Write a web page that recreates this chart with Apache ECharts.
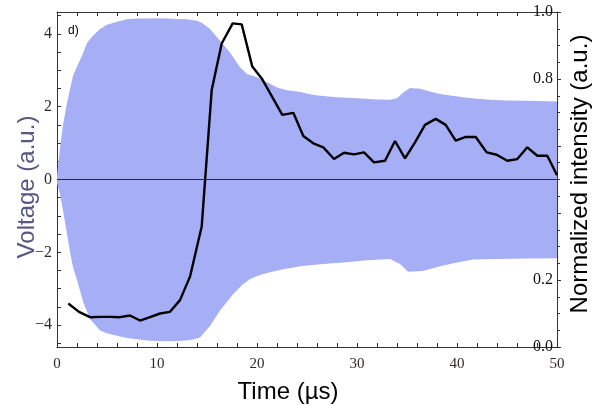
<!DOCTYPE html>
<html>
<head>
<meta charset="utf-8">
<script src="https://cdn.jsdelivr.net/npm/echarts@6/dist/echarts.min.js"></script>
<style>html,body{margin:0;padding:0;background:#fff}#c{width:603px;height:405px}</style>
</head>
<body>
<div id="c"></div>
<script>
// Time axis (µs)
const timeTicks = [0, 10, 20, 30, 40, 50];
const voltageTicks = [-4, -2, 0, 2, 4];
const voltageMinorTicks = [-4.5, -4, -3.5, -3, -2.5, -2, -1.5, -1, -0.5, 0, 0.5, 1, 1.5, 2, 2.5, 3, 3.5, 4, 4.5];
const intensityTicks = [0, 0.2, 0.4, 0.6, 0.8, 1.0];

// Upper envelope of the drive voltage [time µs, voltage a.u.]
const voltageUpper = [[0,0.1],[0.3,0.85],[0.6,1.5],[1,2.1],[1.6,2.85],[2,3.1],[2.5,3.4],[3,3.75],[3.5,3.92],[4.3,4.13],[5,4.25],[6,4.33],[7,4.4],[8,4.42],[9,4.42],[10,4.43],[11,4.42],[12,4.41],[13,4.4],[14,4.36],[14.5,4.3],[15.3,4.13],[16.3,3.81],[17.3,3.49],[18.3,3.08],[19,2.9],[20,2.81],[21,2.67],[22,2.53],[23,2.45],[24.3,2.4],[25.5,2.33],[26.6,2.29],[28,2.26],[30,2.23],[32,2.2],[33.3,2.19],[34,2.23],[34.6,2.38],[35.3,2.51],[36.3,2.49],[37.3,2.42],[38.3,2.35],[39.5,2.3],[40.6,2.26],[42,2.22],[43.3,2.19],[45,2.17],[47,2.16],[50,2.14]];
// Lower envelope of the drive voltage
const voltageLower = [[0,-0.1],[0.3,-0.4],[0.63,-0.9],[1,-1.5],[1.3,-1.99],[1.6,-2.4],[1.97,-2.73],[2.3,-3.05],[2.63,-3.37],[3.3,-3.83],[4.3,-4.15],[5,-4.22],[6,-4.29],[7,-4.35],[8,-4.39],[9.3,-4.43],[11,-4.44],[12.6,-4.43],[13.5,-4.4],[14.3,-4.34],[15.3,-4.02],[16.3,-3.6],[17.6,-3.15],[18.5,-2.9],[19.3,-2.73],[20.3,-2.62],[21.3,-2.55],[22.5,-2.47],[24.3,-2.38],[26.6,-2.32],[29,-2.27],[31,-2.22],[33.3,-2.18],[34.3,-2.32],[35.1,-2.53],[36.6,-2.51],[38.3,-2.38],[40,-2.28],[41.6,-2.2],[44,-2.18],[47,-2.17],[50,-2.16]];
// Normalized intensity [time µs, intensity a.u.]
const intensity = [[1.13,0.130],[2.2,0.105],[3.3,0.089],[4.3,0.090],[5.3,0.090],[6.3,0.089],[7.3,0.094],[8.3,0.079],[9.3,0.089],[10.3,0.100],[11.3,0.105],[12.3,0.14],[13.3,0.21],[14.47,0.36],[15.47,0.767],[16.47,0.906],[17.57,0.966],[18.47,0.963],[19.53,0.837],[20.53,0.799],[21.53,0.746],[22.53,0.693],[23.63,0.699],[24.63,0.630],[25.63,0.608],[26.63,0.596],[27.7,0.561],[28.7,0.58],[29.7,0.575],[30.7,0.581],[31.7,0.551],[32.8,0.556],[33.8,0.615],[34.8,0.563],[35.8,0.611],[36.8,0.663],[37.87,0.681],[38.87,0.663],[39.87,0.616],[40.87,0.627],[41.87,0.627],[42.97,0.581],[43.97,0.574],[45.03,0.556],[46.03,0.561],[47.03,0.596],[48.03,0.571],[49.03,0.571],[50,0.513]];

const chart = echarts.init(document.getElementById('c'), null, {renderer: 'canvas'});
const axisCol = '#333';
const serif = '"Liberation Serif", "DejaVu Serif", serif';
const sans = '"Liberation Sans", Arial, sans-serif';
const band = '#a6aef6';

chart.setOption({
  animation: false,
  grid: {left: 57, right: 46, top: 12, bottom: 58, containLabel: false},
  xAxis: [{
    type: 'value', min: 0, max: 50, interval: 10, position: 'bottom',
    axisLine: {show: true, onZero: false, lineStyle: {color: axisCol, width: 1}},
    axisTick: {show: true, inside: true, length: 4, lineStyle: {color: axisCol}},
    minorTick: {show: true, splitNumber: 5, length: 4, lineStyle: {color: axisCol}},
    axisLabel: {customValues: timeTicks, margin: 10, fontFamily: serif, fontSize: 15, color: '#2e2a28'},
    splitLine: {show: false}
  }, {
    type: 'value', min: 0, max: 50, interval: 10, position: 'top',
    axisLine: {show: true, onZero: false, lineStyle: {color: axisCol, width: 1}},
    axisTick: {show: true, inside: true, length: 4, lineStyle: {color: axisCol}},
    minorTick: {show: true, splitNumber: 5, length: 4, lineStyle: {color: axisCol}},
    axisLabel: {show: false},
    splitLine: {show: false}
  }],
  yAxis: [{
    type: 'value', min: -4.6, max: 4.6, position: 'left',
    axisLine: {show: true, onZero: false, lineStyle: {color: axisCol, width: 1}},
    axisTick: {show: true, inside: true, length: 4, customValues: voltageMinorTicks, lineStyle: {color: axisCol}},
    axisLabel: {customValues: voltageTicks, margin: 5, fontFamily: serif, fontSize: 16, color: '#2e2a28',
      formatter: v => (v < 0 ? '\u2212' + Math.abs(v) : String(v))},
    splitLine: {show: false}
  }, {
    type: 'value', min: 0, max: 1, interval: 0.2, position: 'right',
    axisLine: {show: true, onZero: false, lineStyle: {color: axisCol, width: 1}},
    axisTick: {show: true, inside: false, length: 4, lineStyle: {color: axisCol}},
    minorTick: {show: true, splitNumber: 4, length: 3, lineStyle: {color: axisCol}},
    axisLabel: {customValues: intensityTicks, inside: true, margin: 4, fontFamily: serif, fontSize: 16, color: '#111',
      formatter: v => v.toFixed(1)},
    splitLine: {show: false}
  }],
  series: [{
    type: 'line', xAxisIndex: 0, yAxisIndex: 0, data: voltageUpper,
    symbol: 'none', lineStyle: {width: 0}, areaStyle: {color: band, opacity: 1, origin: 0},
    silent: true, z: 1,
    markLine: {silent: true, symbol: ['none', 'none'], label: {show: false},
      lineStyle: {color: '#2a2a33', width: 1, type: 'solid'}, data: [{yAxis: 0}]}
  }, {
    type: 'line', xAxisIndex: 0, yAxisIndex: 0, data: voltageLower,
    symbol: 'none', lineStyle: {width: 0}, areaStyle: {color: band, opacity: 1, origin: 0},
    silent: true, z: 1
  }, {
    type: 'line', xAxisIndex: 0, yAxisIndex: 1, data: intensity,
    symbol: 'none', lineStyle: {color: '#000', width: 2.4}, z: 3
  }],
  graphic: [
    {type: 'text', x: 68, y: 31, style: {text: 'd)', font: '12px ' + sans, fill: '#000', textVerticalAlign: 'middle'}},
    {type: 'text', x: 27, y: 187, rotation: Math.PI / 2,
      style: {text: 'Voltage (a.u.)', font: '24px ' + sans, fill: '#55587f', textAlign: 'center', textVerticalAlign: 'middle'}},
    {type: 'text', x: 580, y: 174, rotation: Math.PI / 2,
      style: {text: 'Normalized intensity (a.u.)', font: '24px ' + sans, fill: '#000', textAlign: 'center', textVerticalAlign: 'middle'}},
    {type: 'text', x: 288, y: 392,
      style: {text: 'Time (\u00b5s)', font: '24px ' + sans, fill: '#000', textAlign: 'center', textVerticalAlign: 'middle'}}
  ]
});
</script>
</body>
</html>
